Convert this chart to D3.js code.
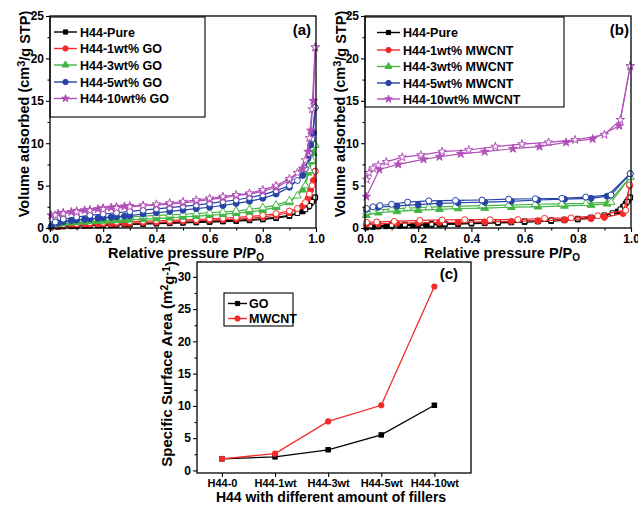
<!DOCTYPE html>
<html>
<head>
<meta charset="utf-8">
<script src="https://cdn.jsdelivr.net/npm/d3@7"></script>
<style>
  body { margin: 0; background: #fff; }
  svg text { font-family: "Liberation Sans", Arial, sans-serif; font-weight: bold; fill: #000; }
</style>
</head>
<body>
<svg id="chart" width="638" height="506"></svg>
<script>
// ---- data ----
const pressureTicks = [0, 0.2, 0.4, 0.6, 0.8, 1.0];
const pressureMinor = [0.1, 0.3, 0.5, 0.7, 0.9];
const volumeTicks = [0, 5, 10, 15, 20, 25];
const volumeMinor = [2.5, 7.5, 12.5, 17.5, 22.5];
const areaTicks = [0, 5, 10, 15, 20, 25, 30];
const areaMinor = [2.5, 7.5, 12.5, 17.5, 22.5, 27.5];

// (a) GO isotherms
const goAdsP = [0.005,0.03,0.05,0.08,0.1,0.13,0.15,0.18,0.2,0.23,0.25,0.28,0.3,0.35,0.4,0.45,0.5,0.55,0.6,0.65,0.7,0.75,0.8,0.85,0.9,0.95,0.97,0.98,0.99,0.997];
const goDesP = [0.997,0.985,0.975,0.96,0.93,0.9,0.85,0.8,0.75,0.7,0.65,0.6,0.55,0.5,0.45,0.4,0.35,0.3,0.25,0.2,0.15,0.1,0.05,0.02];
const pureAds = [0.05,0.12,0.17,0.2,0.22,0.25,0.27,0.3,0.32,0.35,0.37,0.4,0.42,0.46,0.5,0.55,0.6,0.65,0.7,0.76,0.82,0.9,1.0,1.15,1.4,1.95,2.5,2.9,3.3,3.6];
const pureDes = [3.6,3.1,2.6,2.2,1.75,1.5,1.25,1.1,1.0,0.92,0.86,0.8,0.74,0.7,0.65,0.6,0.56,0.52,0.48,0.44,0.4,0.35,0.28,0.2];
const go1Ads = [0.1,0.22,0.28,0.33,0.36,0.4,0.42,0.45,0.47,0.5,0.52,0.55,0.57,0.62,0.67,0.73,0.8,0.86,0.92,0.98,1.05,1.15,1.3,1.5,1.8,2.6,3.5,4.5,5.6,6.7];
const go1Des = [6.7,5.0,4.0,3.0,2.3,2.0,1.7,1.5,1.35,1.25,1.15,1.08,1.0,0.95,0.9,0.85,0.8,0.75,0.7,0.65,0.6,0.52,0.42,0.3];
const go3Ads = [0.3,0.45,0.55,0.62,0.68,0.73,0.76,0.8,0.83,0.87,0.9,0.94,0.97,1.04,1.1,1.2,1.3,1.4,1.5,1.62,1.75,1.9,2.1,2.45,3.0,4.5,6.5,7.8,8.8,9.8];
const go3Des = [9.8,8.0,6.8,5.0,3.8,3.2,2.7,2.4,2.2,2.0,1.9,1.8,1.7,1.62,1.55,1.48,1.4,1.32,1.25,1.15,1.05,0.95,0.8,0.55];
const go5Ads = [0.2,0.6,0.75,0.88,0.95,1.02,1.08,1.15,1.22,1.28,1.33,1.4,1.45,1.65,1.8,1.95,2.1,2.28,2.45,2.65,2.9,3.15,3.5,4.0,4.8,6.2,8.2,9.8,11.2,14.2];
const go5Des = [14.2,10.5,8.8,7.0,5.6,5.0,4.4,3.9,3.6,3.3,3.1,2.9,2.7,2.55,2.4,2.25,2.1,1.95,1.8,1.65,1.5,1.3,1.05,0.7];
const go10Ads = [1.5,1.7,1.8,1.9,2.0,2.1,2.15,2.25,2.35,2.42,2.48,2.55,2.6,2.65,2.7,2.8,2.95,3.15,3.35,3.55,3.8,4.0,4.3,4.8,5.6,7.0,9.0,11.5,15.0,21.3];
const go10Des = [21.3,14.0,10.6,8.0,6.5,5.8,5.0,4.5,4.1,3.9,3.7,3.5,3.3,3.1,2.95,2.8,2.65,2.5,2.35,2.2,2.05,1.9,1.7,1.5];

// (b) MWCNT isotherms
const cntAdsP = [0.005,0.05,0.12,0.2,0.28,0.35,0.45,0.55,0.65,0.75,0.85,0.91,0.997];
const cntDesP = [0.997,0.925,0.83,0.74,0.64,0.54,0.44,0.34,0.24,0.16,0.1,0.056,0.03,0.006];
const cnt1AdsP = [0.005,0.05,0.12,0.2,0.28,0.35,0.45,0.55,0.65,0.75,0.85,0.9,0.97,0.995];
const cnt1DesP = [0.995,0.98,0.875,0.775,0.675,0.575,0.47,0.375,0.29,0.206,0.11,0.044,0.006];
const cnt10AdsP = [0.005,0.054,0.125,0.22,0.28,0.36,0.45,0.556,0.656,0.756,0.856,0.956,0.997];
const cnt10DesP = [0.997,0.96,0.9,0.79,0.69,0.59,0.49,0.39,0.29,0.21,0.14,0.08,0.05,0.03,0.015,0.006];
const cnt1Ads = [0.4,0.5,0.55,0.6,0.65,0.68,0.72,0.78,0.85,0.95,1.1,1.25,1.7,5.0];
const cnt1Des = [5.1,2.1,1.45,1.2,1.14,1.0,0.98,0.98,0.95,0.9,0.78,0.72,0.67];
const cnt3Ads = [1.5,1.8,1.95,2.1,2.2,2.3,2.35,2.45,2.5,2.6,2.7,2.85,6.0];
const cnt3Des = [6.0,3.05,2.9,2.85,2.8,2.7,2.65,2.55,2.45,2.35,2.25,2.1,2.0,1.9];
const cnt5Ads = [2.2,2.45,2.6,2.75,2.9,2.98,3.05,3.15,3.3,3.4,3.5,3.75,6.4];
const cnt5Des = [6.4,3.9,3.65,3.5,3.45,3.4,3.3,3.25,3.2,3.05,2.8,2.65,2.5,2.3];
const cnt10Ads = [3.7,6.9,7.5,8.1,8.4,8.75,9.0,9.35,9.6,10.1,10.5,12.05,19.1];
const cnt10Des = [19.1,12.75,11.0,10.4,10.1,9.9,9.6,9.2,9.0,8.6,8.35,7.8,7.4,7.05,6.5,5.7];

// (c) specific surface area
const fillerLabels = ["H44-0", "H44-1wt", "H44-3wt", "H44-5wt", "H44-10wt"];
const goArea = [1.8, 2.1, 3.2, 5.5, 10.1];
const mwcntArea = [1.8, 2.6, 7.6, 10.1, 28.5];

const C = { black: "#000000", red: "#f42a2a", green: "#44b544", blue: "#2643a6", purple: "#b050b8" };

const zip = (p, v) => p.map((d, i) => [d, v[i]]);

const goSeries = [
  { name: "H44-Pure", color: C.black, sym: d3.symbolSquare, ads: zip(goAdsP, pureAds), des: zip(goDesP, pureDes) },
  { name: "H44-1wt% GO", color: C.red, sym: d3.symbolCircle, ads: zip(goAdsP, go1Ads), des: zip(goDesP, go1Des) },
  { name: "H44-3wt% GO", color: C.green, sym: d3.symbolTriangle, ads: zip(goAdsP, go3Ads), des: zip(goDesP, go3Des) },
  { name: "H44-5wt% GO", color: C.blue, sym: d3.symbolCircle, ads: zip(goAdsP, go5Ads), des: zip(goDesP, go5Des) },
  { name: "H44-10wt% GO", color: C.purple, sym: d3.symbolStar, ads: zip(goAdsP, go10Ads), des: zip(goDesP, go10Des) }
];
const cntSeries = [
  { name: "H44-Pure", color: C.black, sym: d3.symbolSquare, ads: zip(goAdsP, pureAds), des: zip(goDesP, pureDes) },
  { name: "H44-1wt% MWCNT", color: C.red, sym: d3.symbolCircle, ads: zip(cnt1AdsP, cnt1Ads), des: zip(cnt1DesP, cnt1Des) },
  { name: "H44-3wt% MWCNT", color: C.green, sym: d3.symbolTriangle, ads: zip(cntAdsP, cnt3Ads), des: zip(cntDesP, cnt3Des) },
  { name: "H44-5wt% MWCNT", color: C.blue, sym: d3.symbolCircle, ads: zip(cntAdsP, cnt5Ads), des: zip(cntDesP, cnt5Des) },
  { name: "H44-10wt% MWCNT", color: C.purple, sym: d3.symbolStar, ads: zip(cnt10AdsP, cnt10Ads), des: zip(cnt10DesP, cnt10Des) }
];

const svg = d3.select("#chart");

const symSize = s => s === d3.symbolStar ? 22 : s === d3.symbolTriangle ? 26 : s === d3.symbolSquare ? 22 : 28;

function drawAxes(g, x, y, xt, xm, yt, ym, xfmt, xFont, yFont) {
  const y0 = y.range()[0];
  const x0 = x.range()[0];
  const style = fs => sel => {
    sel.select(".domain").remove();
    sel.selectAll("line").attr("stroke", "#000").attr("stroke-width", 1.1);
    sel.selectAll("text").style("font-size", fs + "px").attr("fill", "#000");
  };
  g.append("g").attr("transform", `translate(0,${y0})`)
    .call(d3.axisBottom(x).tickValues(xt).tickSize(4).tickPadding(2).tickFormat(xfmt)).call(style(xFont));
  if (xm) g.append("g").attr("transform", `translate(0,${y0})`)
    .call(d3.axisBottom(x).tickValues(xm).tickSize(2.5).tickFormat("")).call(style(xFont));
  g.append("g").attr("transform", `translate(${x0},0)`)
    .call(d3.axisLeft(y).tickValues(yt).tickSize(4).tickPadding(2).tickFormat(d3.format("d"))).call(style(yFont));
  g.append("g").attr("transform", `translate(${x0},0)`)
    .call(d3.axisLeft(y).tickValues(ym).tickSize(2.5).tickFormat("")).call(style(yFont));
  const [xa, xb] = x.range(), [ya, yb] = y.range();
  g.append("rect").attr("x", xa).attr("y", yb).attr("width", xb - xa).attr("height", ya - yb)
    .attr("fill", "none").attr("stroke", "#000").attr("stroke-width", 1.3);
}

function drawIsotherms(g, x, y, series) {
  const line = d3.line().x(d => x(d[0])).y(d => y(d[1]));
  series.forEach(s => {
    [["ads", s.color], ["des", "#fff"]].forEach(([key, fill]) => {
      g.append("path").datum(s[key]).attr("d", line)
        .attr("fill", "none").attr("stroke", s.color).attr("stroke-width", 1.2);
      g.selectAll(null).data(s[key]).enter().append("path")
        .attr("transform", d => `translate(${x(d[0])},${y(d[1])})`)
        .attr("d", d3.symbol().type(s.sym).size(symSize(s.sym)))
        .attr("fill", fill).attr("stroke", s.color).attr("stroke-width", 1);
    });
  });
}

function drawLegend(g, box, items, rowY, lineX0, lineX1, textX, fontSize) {
  g.append("rect").attr("x", box[0]).attr("y", box[1]).attr("width", box[2]).attr("height", box[3])
    .attr("fill", "#fff").attr("stroke", "#000").attr("stroke-width", 1.1);
  items.forEach((s, i) => {
    const yy = rowY[i];
    g.append("line").attr("x1", lineX0).attr("x2", lineX1).attr("y1", yy).attr("y2", yy)
      .attr("stroke", s.color).attr("stroke-width", 1.4);
    g.append("path").attr("transform", `translate(${(lineX0 + lineX1) / 2},${yy})`)
      .attr("d", d3.symbol().type(s.sym).size(symSize(s.sym) * 0.8))
      .attr("fill", s.color).attr("stroke", s.color);
    g.append("text").attr("x", textX).attr("y", yy).attr("dy", "0.36em")
      .style("font-size", fontSize + "px").text(s.name);
  });
}

function yTitleIso(g, cx, cy) {
  const t = g.append("text").attr("transform", `translate(${cx},${cy}) rotate(-90)`)
    .attr("text-anchor", "middle").style("font-size", "14.5px");
  t.append("tspan").text("Volume adsorbed (cm");
  t.append("tspan").attr("dy", "-0.4em").style("font-size", "11px").text("3");
  t.append("tspan").attr("dy", "0.4em").text("/g STP)");
}

function xTitleIso(g, cx, cy) {
  const t = g.append("text").attr("x", cx).attr("y", cy).attr("text-anchor", "middle").style("font-size", "14.5px");
  t.append("tspan").text("Relative pressure P/P");
  t.append("tspan").attr("dy", "0.3em").style("font-size", "10px").text("O");
}

// ---- panel (a) ----
const gA = svg.append("g");
const xA = d3.scaleLinear().domain([0, 1]).range([50, 316]);
const yA = d3.scaleLinear().domain([0, 25]).range([228, 16]);
drawIsotherms(gA, xA, yA, goSeries);
drawLegend(gA, [50, 17, 155, 100], goSeries, [32, 48.5, 65, 82, 98.5], 54, 77, 80, 12.5);
drawAxes(gA, xA, yA, pressureTicks, pressureMinor, volumeTicks, volumeMinor, d3.format(".1f"), 12, 12);
gA.append("text").attr("x", 311).attr("y", 35).attr("text-anchor", "end").style("font-size", "15px").text("(a)");
yTitleIso(gA, 29, 114);
xTitleIso(gA, 186, 258);

// ---- panel (b) ----
const gB = svg.append("g");
const xB = d3.scaleLinear().domain([0, 1]).range([365, 631]);
const yB = d3.scaleLinear().domain([0, 25]).range([228, 16]);
drawIsotherms(gB, xB, yB, cntSeries);
drawLegend(gB, [365, 17, 199, 90], cntSeries, [32.5, 50, 66.5, 83, 99], 377, 400, 403, 12.5);
drawAxes(gB, xB, yB, pressureTicks, pressureMinor, volumeTicks, volumeMinor, d3.format(".1f"), 12, 12);
gB.append("text").attr("x", 629).attr("y", 35).attr("text-anchor", "end").style("font-size", "15px").text("(b)");
yTitleIso(gB, 345, 114);
xTitleIso(gB, 502, 258);

// ---- panel (c) ----
const gC = svg.append("g");
const xC = d3.scaleLinear().domain([0.53, 5.69]).range([197, 471]);
const yC = d3.scaleLinear().domain([-0.4, 32.3]).range([473, 262]);
const catIdx = fillerLabels.map((d, i) => i + 1);
const areaLine = d3.line().x((d, i) => xC(i + 1)).y(d => yC(d));
[[goArea, C.black, d3.symbolSquare], [mwcntArea, C.red, d3.symbolCircle]].forEach(([vals, col, sym]) => {
  gC.append("path").datum(vals).attr("d", areaLine).attr("fill", "none").attr("stroke", col).attr("stroke-width", 1.3);
  gC.selectAll(null).data(vals).enter().append("path")
    .attr("transform", (d, i) => `translate(${xC(i + 1)},${yC(d)})`)
    .attr("d", d3.symbol().type(sym).size(30)).attr("fill", col);
});
drawAxes(gC, xC, yC, catIdx, null, areaTicks, areaMinor, (d, i) => fillerLabels[i], 11, 12);
gC.append("text").attr("x", 458).attr("y", 279).attr("text-anchor", "end").style("font-size", "15px").text("(c)");
drawLegend(gC, [224, 293, 69, 33],
  [{ name: "GO", color: C.black, sym: d3.symbolSquare }, { name: "MWCNT", color: C.red, sym: d3.symbolCircle }],
  [303.5, 318.5], 228, 247, 249, 12.5);
{
  const t = gC.append("text").attr("transform", "translate(172,364) rotate(-90)")
    .attr("text-anchor", "middle").style("font-size", "15px");
  t.append("tspan").text("Specific Surface Area (m");
  t.append("tspan").attr("dy", "-0.4em").style("font-size", "10.5px").text("2");
  t.append("tspan").attr("dy", "0.4em").text("g");
  t.append("tspan").attr("dy", "-0.4em").style("font-size", "10.5px").text("-1");
  t.append("tspan").attr("dy", "0.4em").text(")");
}
gC.append("text").attr("x", 331).attr("y", 502).attr("text-anchor", "middle").style("font-size", "14px")
  .text("H44 with different amount of fillers");
</script>
</body>
</html>
